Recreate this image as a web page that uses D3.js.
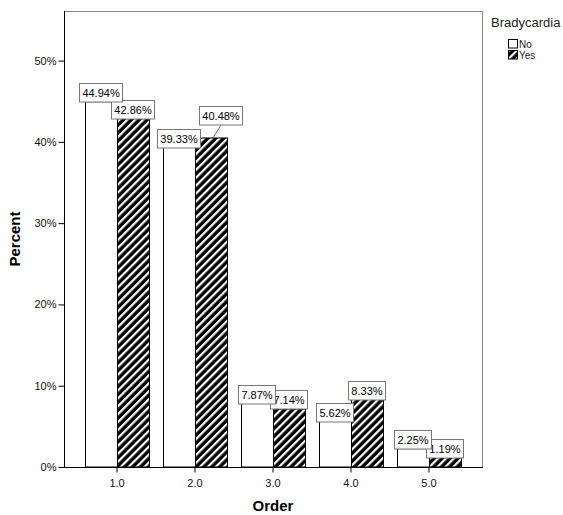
<!DOCTYPE html>
<meta charset="utf-8">
<style>
  body { margin: 0; background: #fff; }
  text { font-family: "Liberation Sans", Arial, sans-serif; }
</style>
<svg width="563" height="515"></svg>
<script src="https://d3js.org/d3.v7.min.js"></script>
<script>
// data
const orders = ["1.0", "2.0", "3.0", "4.0", "5.0"]
const groups = ["No", "Yes"]
const noValues = [44.94, 39.33, 7.87, 5.62, 2.25]
const yesValues = [42.86, 40.48, 7.14, 8.33, 1.19]
const yTicks = [0, 10, 20, 30, 40, 50]

// one label was pushed aside in the original to avoid a clash
const labelShift = { "2.0|Yes": [10, -13] }

const rows = []
orders.forEach((o, i) => {
  rows.push({ order: o, group: "No", value: noValues[i] })
  rows.push({ order: o, group: "Yes", value: yesValues[i] })
})

const svg = d3.select("svg")
const plotL = 64, plotR = 482, plotT = 11, plotB = 467

const defs = svg.append("defs")
const hatch = defs.append("pattern")
    .attr("id", "hatch")
    .attr("patternUnits", "userSpaceOnUse")
    .attr("width", 5.6)
    .attr("height", 5.6)
    .attr("patternTransform", "rotate(45)")
hatch.append("rect").attr("width", 5.6).attr("height", 5.6).attr("fill", "#000")
hatch.append("rect").attr("width", 2.2).attr("height", 5.6).attr("fill", "#fff")

const fillFor = g => g === "Yes" ? "url(#hatch)" : "#fff"

const x = d3.scaleBand()
    .domain(orders)
    .range([plotL, plotR])
    .paddingInner(0.18)
    .paddingOuter(0.27)
const xs = d3.scaleBand()
    .domain(groups)
    .range([0, x.bandwidth()])
const y = d3.scaleLinear()
    .domain([0, 56.1])
    .range([plotB, plotT])

// frame
svg.append("rect")
    .attr("x", plotL + 0.5).attr("y", plotT + 0.5)
    .attr("width", plotR - plotL).attr("height", plotB - plotT)
    .attr("fill", "none")
    .attr("stroke", "#888")

// bars
svg.append("g")
  .selectAll("rect")
  .data(rows)
  .join("rect")
    .attr("x", d => Math.round(x(d.order) + xs(d.group)) + 0.5)
    .attr("y", d => y(d.value))
    .attr("width", xs.bandwidth())
    .attr("height", d => plotB - y(d.value))
    .attr("fill", d => fillFor(d.group))
    .attr("stroke", "#000")
    .attr("stroke-width", 1)

// axes
const yAxis = svg.append("g")
    .attr("transform", `translate(${plotL + 0.5},0)`)
    .call(d3.axisLeft(y).tickValues(yTicks).tickFormat(d => d + "%").tickSizeOuter(0).tickSize(6))
yAxis.select(".domain").attr("stroke", "#000").attr("d", `M0,${plotT}V${plotB}`)

const xAxis = svg.append("g")
    .attr("transform", `translate(0,${plotB + 0.5})`)
    .call(d3.axisBottom(x).tickSizeOuter(0).tickSize(5))
xAxis.select(".domain").attr("stroke", "#000").attr("d", `M${plotL},0H${plotR + 1}`)

svg.selectAll(".tick text")
    .attr("font-family", "'Liberation Sans', Arial, sans-serif")
    .attr("font-size", 11)
    .attr("fill", "#111")
xAxis.selectAll(".tick text").attr("dy", "1.05em").attr("y", 8)
yAxis.selectAll(".tick text").attr("x", -8)

// axis titles
svg.append("text")
    .attr("transform", `translate(20,${(plotT + plotB) / 2}) rotate(-90)`)
    .attr("text-anchor", "middle")
    .attr("font-size", 15)
    .attr("font-weight", "bold")
    .text("Percent")

svg.append("text")
    .attr("x", (plotL + plotR) / 2)
    .attr("y", 511)
    .attr("text-anchor", "middle")
    .attr("font-size", 15)
    .attr("font-weight", "bold")
    .text("Order")

// value labels, Yes first so No sits on top
const labelRows = rows.filter(d => d.group === "Yes").concat(rows.filter(d => d.group === "No"))
const labels = svg.append("g")
  .selectAll("g")
  .data(labelRows)
  .join("g")

labels.each(function(d) {
  const g = d3.select(this)
  const cx = x(d.order) + xs(d.group) + xs.bandwidth() / 2
  const by = y(d.value)
  const shift = labelShift[d.order + "|" + d.group] || [0, 0]
  const t = g.append("text")
      .attr("font-size", 11)
      .attr("text-anchor", "middle")
      .text(d.value.toFixed(2) + "%")
  const w = t.node().getComputedTextLength() + 6
  const h = 18.5
  const bx = cx + shift[0], boxY = by + shift[1]
  if (shift[0] || shift[1]) {
    g.insert("line", "text")
        .attr("x1", cx + 2).attr("y1", by)
        .attr("x2", bx).attr("y2", boxY)
        .attr("stroke", "#777")
  }
  g.insert("rect", "text")
      .attr("x", Math.round(bx - w / 2) + 0.5)
      .attr("y", Math.round(boxY - h) + 0.5)
      .attr("width", Math.round(w))
      .attr("height", h)
      .attr("fill", "#fff")
      .attr("stroke", "#777")
  t.attr("x", bx).attr("y", boxY - 4.5)
})

// legend
const legend = svg.append("g")
svg.append("text")
    .attr("x", 491)
    .attr("y", 27)
    .attr("font-size", 13)
    .attr("fill", "#222")
    .text("Bradycardia")

const item = legend.selectAll("g")
  .data(groups)
  .join("g")
    .attr("transform", (d, i) => `translate(508,${39 + i * 11})`)
item.append("rect")
    .attr("x", 0.5).attr("y", 0.5)
    .attr("width", 9).attr("height", 8.5)
    .attr("fill", d => fillFor(d))
    .attr("stroke", "#000")
item.append("text")
    .attr("x", 11)
    .attr("y", 8.5)
    .attr("font-size", 10)
    .attr("fill", "#222")
    .text(d => d)
</script>
